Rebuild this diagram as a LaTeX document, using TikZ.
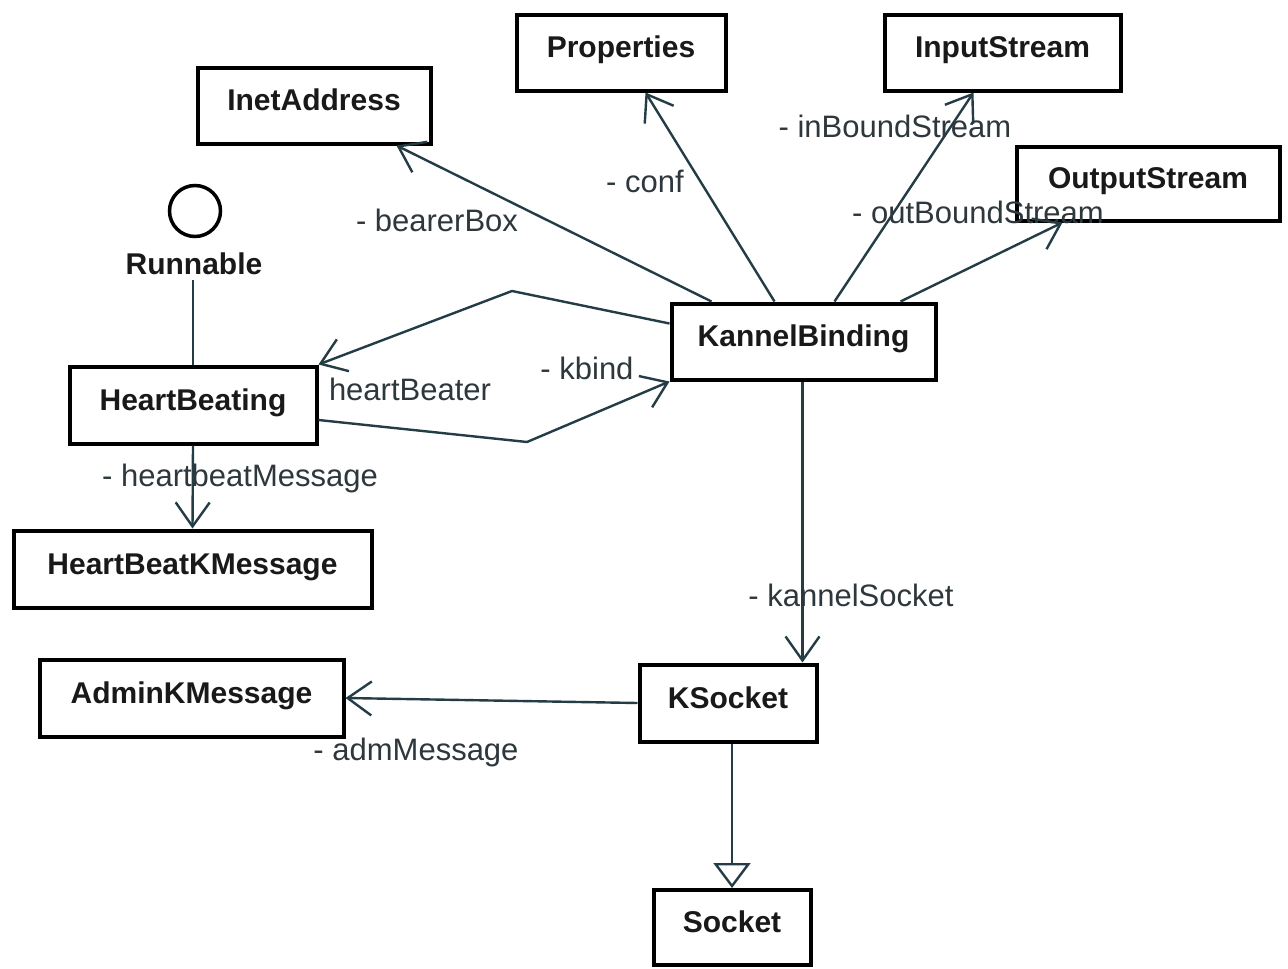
\documentclass[tikz,border=0pt]{standalone}
\usepackage{fontspec}
\setmainfont{Liberation Sans}
\usetikzlibrary{arrows.meta,calc}
\definecolor{edgec}{RGB}{35,60,70}
\definecolor{lblc}{RGB}{45,55,60}
\begin{document}
\begin{tikzpicture}[x=1pt,y=-1pt,
  cls/.style={draw=black,line width=4pt,fill=white,inner sep=0pt,
    font=\fontsize{30}{36}\selectfont\bfseries,text=black!90,
    text height=22pt,text depth=12pt},
  assoc/.style={draw=edgec,line width=2.4pt,
    -{Straight Barb[length=24pt,width=34pt]}},
  gen/.style={draw=edgec,line width=2.4pt,
    -{Triangle[open,length=25pt,width=37pt,fill=white]}},
  plain/.style={draw=edgec,line width=2.4pt},
  lbl/.style={font=\fontsize{31}{37}\selectfont,text=lblc,anchor=base,inner sep=0pt},
  ifc/.style={circle,draw=black,line width=3.5pt,minimum size=51pt,inner sep=0pt},
  ifclbl/.style={font=\fontsize{30}{36}\selectfont\bfseries,text=black!90,anchor=base,inner sep=0pt}
]
\useasboundingbox (0,0) rectangle (1288,969);
\fill[white] (0,0) rectangle (1288,969);

% classes
\node[cls,minimum width=233pt,minimum height=76pt] (inet) at (314,105.5) {InetAddress};
\node[cls,minimum width=209pt,minimum height=76pt] (prop) at (621,52.5) {Properties};
\node[cls,minimum width=236pt,minimum height=76pt] (ins) at (1002.5,52.5) {InputStream};
\node[cls,minimum width=263pt,minimum height=74pt] (outs) at (1148,183.5) {OutputStream};
\node[cls,minimum width=264pt,minimum height=76pt] (kb) at (803.5,341.5) {KannelBinding};
\node[cls,minimum width=247pt,minimum height=77pt] (hb) at (193,405) {HeartBeating};
\node[cls,minimum width=358pt,minimum height=77pt] (hbk) at (192.5,569) {HeartBeatKMessage};
\node[cls,minimum width=304pt,minimum height=77pt] (akm) at (191.5,698) {AdminKMessage};
\node[cls,minimum width=177pt,minimum height=77pt] (ks) at (728,703) {KSocket};
\node[cls,minimum width=157pt,minimum height=75pt] (so) at (732,927.5) {Socket};

% interface
\node[ifc] (runc) at (195,211) {};
\node[ifclbl] (runl) at (194,274) {Runnable};

% bend points
\coordinate (b1) at (512,291);
\coordinate (b2) at (527,442);

% connectors
\draw[assoc] ([xshift=42pt]kb.north west) -- ([xshift=201pt]inet.south west);
\draw[assoc] ([xshift=105pt]kb.north west) -- ([xshift=131pt]prop.south west);
\draw[assoc] ([xshift=165pt]kb.north west) -- ([xshift=91pt]ins.south west);
\draw[assoc] ([xshift=231pt]kb.north west) -- ([xshift=48pt]outs.south west);
\draw[assoc] ([yshift=18pt]kb.west) -- (b1) -- (hb.north east);
\draw[assoc] ([yshift=-15pt]hb.east) -- (b2) -- (kb.south west);
\draw[assoc] (hb.south) -- (hbk.north);
\draw[assoc] ([xshift=133pt]kb.south west) -- ([xshift=165pt]ks.north west);
\draw[assoc] (ks.west) -- (akm.east);
\draw[gen] (ks.south -| so.north) -- (so.north);
\draw[plain] ($(hb.north |- runl.south)+(0,6)$) -- (hb.north);

% role labels
\node[lbl] (lbearer) at (437,231) {- bearerBox};
\node[lbl] (lconf) at (645,192) {- conf};
\node[lbl] (linb) at (895,137) {- inBoundStream};
\node[lbl] (loutb) at (978,223) {- outBoundStream};
\node[lbl] (lkbind) at (587,379) {- kbind};
\node[lbl] (lhbeater) at (410,400) {heartBeater};
\node[lbl] (lhbmsg) at (240,486) {- heartbeatMessage};
\node[lbl] (lksock) at (851,606) {- kannelSocket};
\node[lbl] (ladm) at (416,760) {- admMessage};
\end{tikzpicture}
\end{document}
